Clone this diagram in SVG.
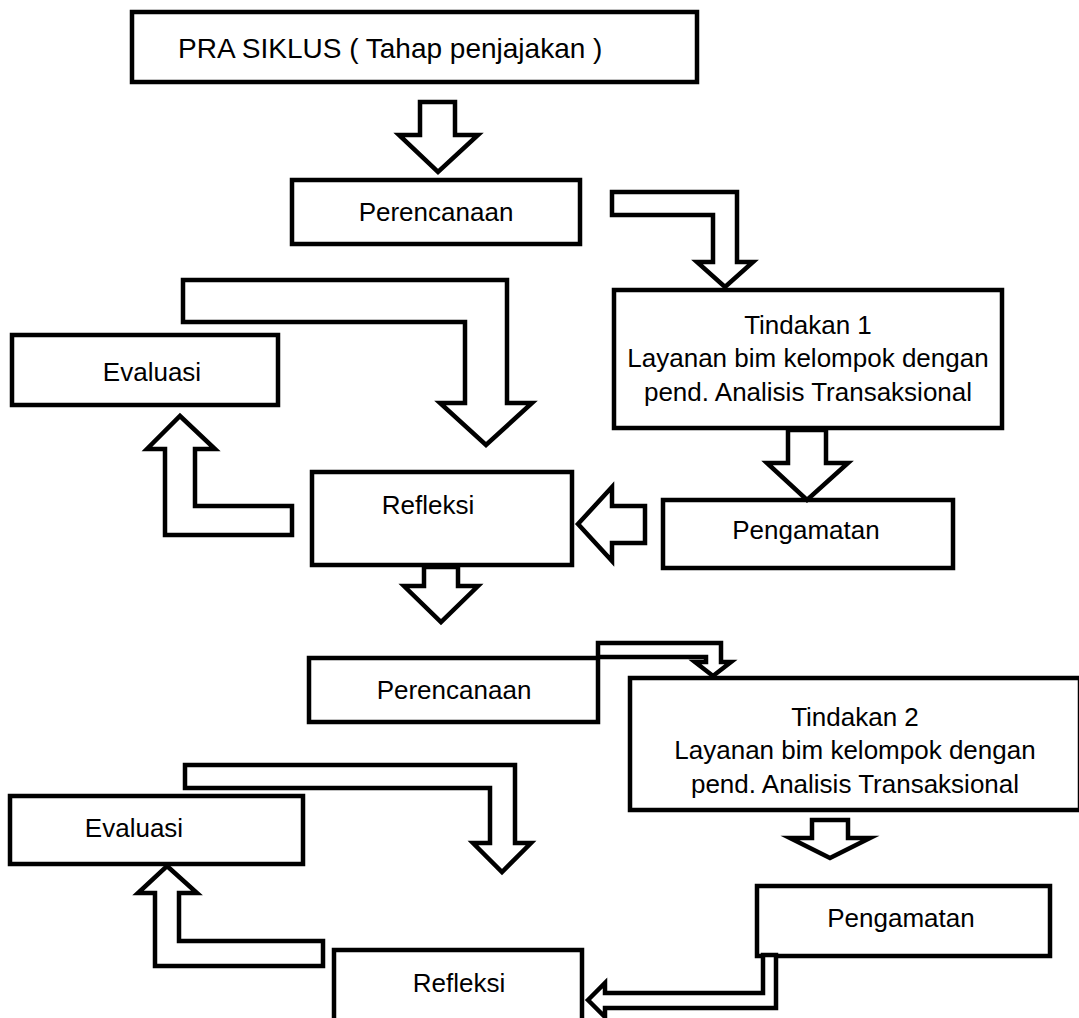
<svg xmlns="http://www.w3.org/2000/svg" width="1079" height="1018" viewBox="0 0 1079 1018">
<style>
.box{fill:#fff;stroke:#000;stroke-width:4.5}
.arr{fill:#fff;stroke:#000;stroke-width:4.5;stroke-linejoin:miter;stroke-miterlimit:10}
text{font-family:"Liberation Sans",Arial,sans-serif;font-size:26px;fill:#000}
.c{text-anchor:middle}
</style>
<rect width="1079" height="1018" fill="#fff"/>
<g id="pra"><rect class="box" x="132" y="12" width="565" height="70"/><text x="178" y="58" style="font-size:28px">PRA SIKLUS ( Tahap penjajakan )</text></g>
<g id="perencanaan1"><rect class="box" x="292" y="180" width="288" height="64"/><text class="c" x="436" y="221">Perencanaan</text></g>
<g id="tindakan1"><rect class="box" x="614" y="290" width="388" height="138"/><text class="c" x="808" y="334">Tindakan 1</text><text class="c" x="808" y="367">Layanan bim kelompok dengan</text><text class="c" x="808" y="401">pend. Analisis Transaksional</text></g>
<g id="evaluasi1"><rect class="box" x="12" y="335" width="266" height="70"/><text class="c" x="152" y="381">Evaluasi</text></g>
<g id="refleksi1"><rect class="box" x="312" y="472" width="260" height="93"/><text class="c" x="428" y="514">Refleksi</text></g>
<g id="pengamatan1"><rect class="box" x="663" y="500" width="290" height="68"/><text class="c" x="806" y="539">Pengamatan</text></g>
<g id="perencanaan2"><rect class="box" x="309" y="658" width="289" height="64"/><text class="c" x="454" y="699">Perencanaan</text></g>
<g id="tindakan2"><rect class="box" x="630" y="678" width="450" height="132"/><text class="c" x="855" y="726">Tindakan 2</text><text class="c" x="855" y="759">Layanan bim kelompok dengan</text><text class="c" x="855" y="793">pend. Analisis Transaksional</text></g>
<g id="evaluasi2"><rect class="box" x="10" y="796" width="293" height="68"/><text class="c" x="134" y="837">Evaluasi</text></g>
<g id="pengamatan2"><rect class="box" x="757" y="886" width="293" height="70"/><text class="c" x="901" y="927">Pengamatan</text></g>
<g id="refleksi2"><rect class="box" x="334" y="950" width="248" height="75"/><text class="c" x="459" y="992">Refleksi</text></g>
<g id="connectors">
<polygon class="arr" points="420,102 455,102 455,135 478,135 438,172 399,135 420,135"/>
<polygon class="arr" points="612,192 737,192 737,262 753,262 725,287 697,262 713,262 713,215 612,215"/>
<polygon class="arr" points="183,280 507,280 507,403 532,403 486,445 440,403 465,403 465,322 183,322"/>
<polygon class="arr" points="180,416 215,449 195,449 195,506 292,506 292,535 165,535 165,449 147,449"/>
<polygon class="arr" points="578,524 612,487 612,506 645,506 645,543 612,543 612,561"/>
<polygon class="arr" points="788,430 826,430 826,463 848,463 807,500 767,463 788,463"/>
<polygon class="arr" points="424,567 458,567 458,586 478,586 441,622 404,586 424,586"/>
<polygon class="arr" points="598,643 721,643 721,662 731,662 713,676 695,662 706,662 706,657 598,657"/>
<polygon class="arr" points="185,765 515,765 515,843 531,843 502,872 473,843 490,843 490,788 185,788"/>
<polygon class="arr" points="812,820 848,820 848,838 870,838 830,858 790,838 812,838"/>
<polygon class="arr" points="167,866 197,893 179,893 179,941 323,941 323,966 155,966 155,893 138,893"/>
<polygon class="arr" points="588,1000 605,983 605,993 763,993 763,955 776,955 776,1008 605,1008 605,1017"/>
</g>
</svg>
